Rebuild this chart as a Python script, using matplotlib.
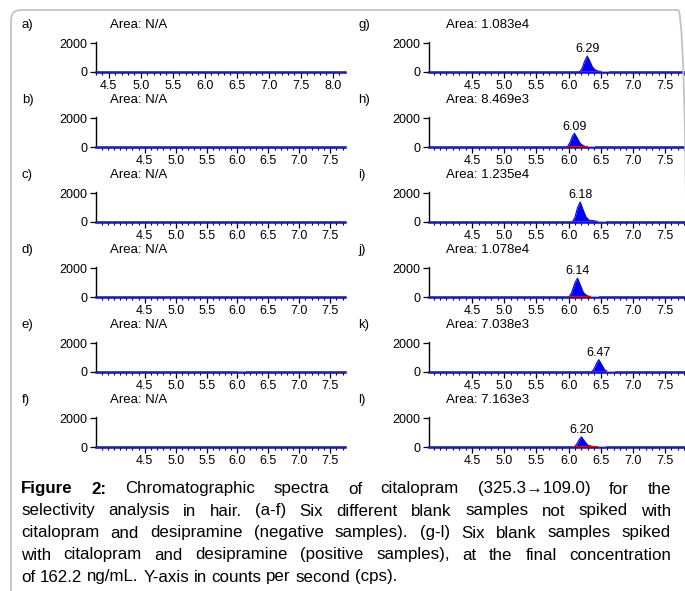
import matplotlib
matplotlib.use("Agg")
import matplotlib.pyplot as plt
import matplotlib.transforms as mtransforms
from matplotlib.patches import FancyBboxPatch
from matplotlib.ticker import MultipleLocator, FixedLocator, FormatStrFormatter

W, H = 685, 591
FONT = ["Liberation Sans", "DejaVu Sans"]
plt.rcParams["font.family"] = FONT

# left column: blank samples (no peaks)
left_labels = ["a)", "b)", "c)", "d)", "e)", "f)"]
left_areas = ["N/A", "N/A", "N/A", "N/A", "N/A", "N/A"]
left_xlims = [(4.30, 8.19), (3.71, 7.74), (3.71, 7.74), (3.71, 7.74), (3.71, 7.74), (3.71, 7.74)]
left_ticks = [[4.5, 5.0, 5.5, 6.0, 6.5, 7.0, 7.5, 8.0]] + [[4.5, 5.0, 5.5, 6.0, 6.5, 7.0, 7.5]] * 5
# tiny bump seen in e)
blip_t = [6.02, 6.07, 6.12]
blip_v = [0, 40, 0]

# right column: spiked samples
right_labels = ["g)", "h)", "i)", "j)", "k)", "l)"]
right_areas = ["1.083e4", "8.469e3", "1.235e4", "1.078e4", "7.038e3", "7.163e3"]
right_xlim = (3.83, 7.81)
right_ticks = [4.5, 5.0, 5.5, 6.0, 6.5, 7.0, 7.5]
peak_rt = [6.29, 6.09, 6.18, 6.14, 6.47, 6.20]
peak_apex = [1100, 950, 1380, 1300, 850, 700]

g_t = [6.17, 6.21, 6.25, 6.29, 6.33, 6.37, 6.42, 6.48, 6.54]
g_v = [0, 250, 750, 1100, 750, 350, 120, 40, 0]
h_t = [5.98, 6.02, 6.06, 6.09, 6.13, 6.18, 6.24, 6.31]
h_v = [0, 300, 750, 950, 650, 250, 60, 0]
i_t = [6.06, 6.10, 6.14, 6.18, 6.22, 6.27, 6.32, 6.40, 6.48]
i_v = [0, 350, 1000, 1380, 900, 350, 120, 80, 0]
j_t = [6.01, 6.05, 6.10, 6.14, 6.18, 6.23, 6.29, 6.37]
j_v = [0, 350, 1000, 1300, 850, 300, 80, 0]
k_t = [6.36, 6.40, 6.44, 6.47, 6.51, 6.56, 6.62]
k_v = [0, 250, 650, 850, 550, 150, 0]
l_t = [6.09, 6.13, 6.17, 6.20, 6.24, 6.30, 6.38, 6.48]
l_v = [0, 220, 550, 700, 450, 120, 30, 0]
peak_t = [g_t, h_t, i_t, j_t, k_t, l_t]
peak_v = [g_v, h_v, i_v, j_v, k_v, l_v]

caption_lines = [
    "Figure 2: Chromatographic spectra of citalopram (325.3\u2192109.0) for the",
    "selectivity analysis in hair. (a-f) Six different blank samples not spiked with",
    "citalopram and desipramine (negative samples). (g-l) Six blank samples spiked",
    "with citalopram and desipramine (positive samples), at the final concentration",
    "of 162.2 ng/mL. Y-axis in counts per second (cps).",
]

TRACE = "#1c1cb8"
PEAK = "#0000ff"
RED = "#d01010"

fig = plt.figure(figsize=(W / 100, H / 100), dpi=100)


def fx(px):
    return px / W


def fy(py):
    return 1 - py / H


def make_axes(x0, x1, row, xlim, ticks):
    top, bot = 42 + 75 * row, 72 + 75 * row
    ax = fig.add_axes([fx(x0), fy(bot), fx(x1 - x0), (bot - top) / H])
    ax.set_xlim(*xlim)
    ax.set_ylim(0, 2070)
    ax.patch.set_alpha(0)
    for s in ("top", "right"):
        ax.spines[s].set_visible(False)
    ax.spines["left"].set_linewidth(1.0)
    ax.spines["bottom"].set_linewidth(1.0)
    ax.set_yticks([0, 2000])
    ax.xaxis.set_major_locator(FixedLocator(ticks))
    ax.xaxis.set_minor_locator(MultipleLocator(0.1))
    ax.xaxis.set_major_formatter(FormatStrFormatter("%.1f"))
    ax.tick_params(axis="both", which="major", length=4, width=0.9, pad=2,
                   labelsize=9, direction="out")
    ax.tick_params(axis="x", which="minor", length=2, width=0.8)
    ax.plot(xlim, [0, 0], color=TRACE, lw=1.8, clip_on=False, zorder=5)
    return ax


for r in range(6):
    ax = make_axes(96, 345, r, left_xlims[r], left_ticks[r])
    fig.text(fx(22), fy(25 + 75 * r), left_labels[r], fontsize=9.5, va="center")
    fig.text(fx(110), fy(25 + 75 * r), "Area: " + left_areas[r], fontsize=9.5, va="center")
    if r == 4:
        ax.plot(blip_t, blip_v, color="#9090ff", lw=1.2, zorder=6)

for r in range(6):
    ax = make_axes(429, 685, r, right_xlim, right_ticks)
    fig.text(fx(358), fy(25 + 75 * r), right_labels[r], fontsize=9.5, va="center")
    fig.text(fx(446), fy(25 + 75 * r), "Area: " + right_areas[r], fontsize=9.5, va="center")
    t, v = peak_t[r], peak_v[r]
    ax.fill_between(t, 0, v, color=PEAK, lw=0, zorder=6)
    ax.plot(t, v, color=PEAK, lw=0.8, zorder=6)
    ax.plot([t[0], t[-1]], [0, 0], color=RED, lw=1.6, zorder=7, solid_capstyle="butt")
    ax.plot([t[-1], t[-1] + 0.08], [0, 0], color="#a8a8ff", lw=1.6, zorder=7)
    ax.annotate(f"{peak_rt[r]:.2f}", (peak_rt[r], peak_apex[r]), xytext=(0, 0.5),
                textcoords="offset points", ha="center", va="bottom", fontsize=9)

# page frame
frame = FancyBboxPatch((11, -30), 677, H - 10 + 30,
                       boxstyle="round,pad=0,rounding_size=10",
                       transform=mtransforms.IdentityTransform(),
                       facecolor="none", edgecolor="#c4c4c4", lw=1.3)
fig.add_artist(frame)

# justified caption
renderer = fig.canvas.get_renderer()
left, right = 21, 671
space = 0.278 * 12.2 * 100 / 72
for i, line in enumerate(caption_lines):
    words = line.split(" ")
    texts = []
    for j, w in enumerate(words):
        weight = "bold" if (i == 0 and j < 2) else "normal"
        texts.append(fig.text(0, 0, w, fontsize=12.2, fontweight=weight,
                              ha="left", va="baseline", family=FONT))
    widths = [t.get_window_extent(renderer).width for t in texts]
    if i < len(caption_lines) - 1:
        gap = (right - left - sum(widths)) / (len(words) - 1)
    else:
        gap = space
    x = left
    base = 493.5 + 22 * i
    for t, w in zip(texts, widths):
        t.set_position((fx(x), fy(base)))
        x += w + gap

fig.savefig("out.png", dpi=100)
